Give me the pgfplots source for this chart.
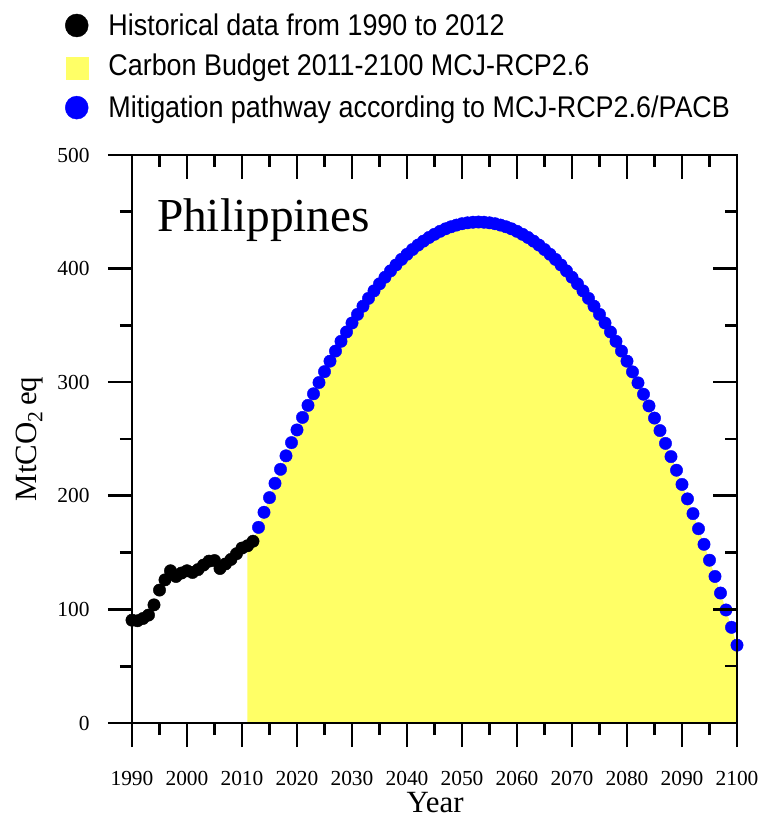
\documentclass[border=0pt]{standalone}
\usepackage{fontspec}
\setmainfont{Liberation Serif}
\newfontfamily\legfont{Liberation Sans}[FakeStretch=0.9]
\usepackage{pgfplots}
\pgfplotsset{compat=1.18}
\definecolor{budget}{RGB}{255,255,102}
\definecolor{pathblue}{RGB}{0,0,255}
\begin{document}
\begin{tikzpicture}
\useasboundingbox (-132bp,-97bp) rectangle (628bp,723bp);
\pgfplotsset{
  common/.style={
    width=605bp, height=568bp, scale only axis,
    xmin=1990, xmax=2100, ymin=0, ymax=500,
    xtick={1990,2000,...,2100}, ytick={0,100,...,500},
    minor x tick num=1, minor y tick num=1,
    major tick length=24bp, minor tick length=12bp,
    axis line style={line width=2.6bp},
    every tick/.style={black, line width=2.6bp},
    clip=false,
  }
}
\begin{axis}[common,
  tick align=outside, xtick pos=left, ytick pos=left,
  /pgf/number format/assume math mode=true,
  xticklabel style={font=\fontsize{21.5}{26}\selectfont, /pgf/number format/1000 sep={}, yshift=-21bp},
  yticklabel style={font=\fontsize{21.5}{26}\selectfont, xshift=-15bp},
  xlabel={Year}, ylabel={MtCO\textsubscript{2}\,eq},
  xlabel style={font=\fontsize{31}{36}\selectfont, at={(axis description cs:0.501,-0.14)}, anchor=center},
  ylabel style={font=\fontsize{31}{36}\selectfont, at={(axis description cs:-0.169,0.5)}, anchor=center},
  legend style={at={(axis description cs:-0.111,1.249)}, anchor=north west, draw=none, fill=none,
    font=\legfont\fontsize{30}{35}\selectfont, row sep=17bp, inner sep=0pt,
    nodes={inner sep=0pt}, /tikz/every odd column/.append style={column sep=20bp}},
  legend cell align=left,
]
\addlegendimage{legend image code/.code={\fill[black] (11bp,0) circle (11.5bp);}}
\addlegendentry{Historical data from 1990 to 2012}
\addlegendimage{legend image code/.code={\fill[budget] (0,-13bp) rectangle (22bp,9bp);}}
\addlegendentry{Carbon Budget 2011-2100 MCJ-RCP2.6}
\addlegendimage{legend image code/.code={\fill[pathblue] (11bp,0) circle (11.5bp);}}
\addlegendentry{Mitigation pathway according to MCJ-RCP2.6/PACB}

% carbon budget area
\addplot[fill=budget, draw=none, forget plot] coordinates {
(2011,0) (2011,156) (2012,160) (2013,172.2) (2014,185.5) (2015,198.4) (2016,211.0) (2017,223.3)
(2018,235.2) (2019,246.8) (2020,258.0) (2021,269.0) (2022,279.6) (2023,289.8) (2024,299.7)
(2025,309.3) (2026,318.5) (2027,327.4) (2028,336.0) (2029,344.2) (2030,352.1) (2031,359.7)
(2032,366.9) (2033,373.8) (2034,380.4) (2035,386.6) (2036,392.4) (2037,398.0) (2038,403.2)
(2039,408.1) (2040,412.6) (2041,416.8) (2042,420.7) (2043,424.2) (2044,427.4) (2045,430.2)
(2046,432.8) (2047,435.0) (2048,436.8) (2049,438.3) (2050,439.5) (2051,440.3) (2052,440.8)
(2053,441.0) (2054,440.8) (2055,440.3) (2056,439.5) (2057,438.3) (2058,436.8) (2059,435.0)
(2060,432.8) (2061,430.2) (2062,427.4) (2063,424.2) (2064,420.7) (2065,416.8) (2066,412.6)
(2067,408.1) (2068,403.2) (2069,398.0) (2070,392.4) (2071,386.6) (2072,380.4) (2073,373.8)
(2074,366.9) (2075,359.7) (2076,352.1) (2077,344.2) (2078,336.0) (2079,327.4) (2080,318.5)
(2081,309.1) (2082,299.4) (2083,289.4) (2084,279.1) (2085,268.4) (2086,257.4) (2087,246.1)
(2088,234.5) (2089,222.5) (2090,210.0) (2091,197.3) (2092,184.3) (2093,171.0) (2094,157.3)
(2095,143.3) (2096,129.0) (2097,114.4) (2098,99.5) (2099,84.2) (2100,68.5) (2100,0)
} \closedcycle;

% mitigation pathway
\addplot[only marks, mark=*, mark size=6.2bp, color=pathblue, mark options={draw=pathblue, fill=pathblue}, forget plot] coordinates {
(2013,172.2) (2014,185.5) (2015,198.4) (2016,211.0) (2017,223.3)
(2018,235.2) (2019,246.8) (2020,258.0) (2021,269.0) (2022,279.6) (2023,289.8) (2024,299.7)
(2025,309.3) (2026,318.5) (2027,327.4) (2028,336.0) (2029,344.2) (2030,352.1) (2031,359.7)
(2032,366.9) (2033,373.8) (2034,380.4) (2035,386.6) (2036,392.4) (2037,398.0) (2038,403.2)
(2039,408.1) (2040,412.6) (2041,416.8) (2042,420.7) (2043,424.2) (2044,427.4) (2045,430.2)
(2046,432.8) (2047,435.0) (2048,436.8) (2049,438.3) (2050,439.5) (2051,440.3) (2052,440.8)
(2053,441.0) (2054,440.8) (2055,440.3) (2056,439.5) (2057,438.3) (2058,436.8) (2059,435.0)
(2060,432.8) (2061,430.2) (2062,427.4) (2063,424.2) (2064,420.7) (2065,416.8) (2066,412.6)
(2067,408.1) (2068,403.2) (2069,398.0) (2070,392.4) (2071,386.6) (2072,380.4) (2073,373.8)
(2074,366.9) (2075,359.7) (2076,352.1) (2077,344.2) (2078,336.0) (2079,327.4) (2080,318.5)
(2081,309.1) (2082,299.4) (2083,289.4) (2084,279.1) (2085,268.4) (2086,257.4) (2087,246.1)
(2088,234.5) (2089,222.5) (2090,210.0) (2091,197.3) (2092,184.3) (2093,171.0) (2094,157.3)
(2095,143.3) (2096,129.0) (2097,114.4) (2098,99.5) (2099,84.2) (2100,68.5)
};

% historical data
\addplot[only marks, mark=*, mark size=6.2bp, color=black, forget plot] coordinates {
(1990,90.5) (1991,90) (1992,92) (1993,95) (1994,104) (1995,117) (1996,126) (1997,134)
(1998,129) (1999,132) (2000,134) (2001,132.5) (2002,135) (2003,139) (2004,142.5) (2005,143)
(2006,136) (2007,140) (2008,144) (2009,149) (2010,154) (2011,156) (2012,160)
};

\node[anchor=west, font=\fontsize{47.5}{54}\selectfont, inner sep=0pt] at (axis description cs:0.041,0.885) {Philippines};
\end{axis}
\begin{axis}[common,
  tick align=inside, xtick pos=right, ytick pos=right,
  xticklabels={}, yticklabels={},
]
\end{axis}
\end{tikzpicture}
\end{document}
